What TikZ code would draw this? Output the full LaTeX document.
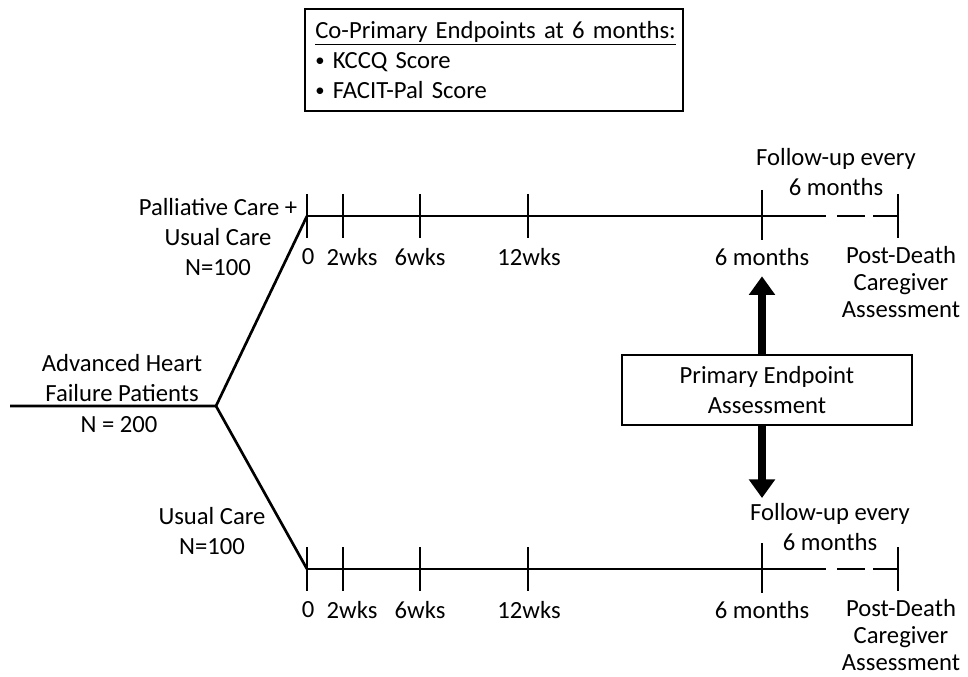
\documentclass[tikz,border=0pt]{standalone}
\usepackage{fontspec}
\setmainfont{Carlito}
\usetikzlibrary{arrows.meta,positioning}

\newcommand{\smbul}{\raisebox{0.06em}{\fontsize{14}{14}\selectfont•}\ }

\begin{document}
\begin{tikzpicture}[
    x=0.75pt, y=-0.75pt,
    line width=2pt,
    lbl/.style={font=\fontsize{18.5}{22.5}\selectfont, align=center, inner sep=0pt},
    box/.style={draw, line width=1.6pt, font=\fontsize{18.5}{22.5}\selectfont},
    bigarr/.style={-{Triangle[length=14pt,width=19pt]}, line width=6.5pt}
]
\useasboundingbox (0,0) rectangle (968,677);

% endpoints box
\node[box, align=left, text width=268pt, inner xsep=7.5pt, minimum height=76.5pt] (coprim) at (494,60)
    {\underline{Co-Primary Endpoints at 6 months:}\\ \smbul KCCQ Score\\ \smbul FACIT-Pal Score};

% randomisation
\coordinate (start) at (10,406);
\coordinate (split) at (216,406);
\coordinate (pc0) at (307,216);
\coordinate (uc0) at (307,569);
\draw (start) -- (split) -- (pc0);
\draw (split) -- (uc0);

\node[lbl] (pts) at (122,378) {Advanced Heart\\Failure Patients};
\node[lbl] (ntot) at (119,425) {N = 200};
\node[lbl] (pcarm) at (218,237) {Palliative Care +\\Usual Care\\N=100};
\node[lbl] (ucarm) at (212,531) {Usual Care\\N=100};

% timelines
\foreach \arm/\yy in {pc/216, uc/569} {
    \draw (\arm0) -- (826,\yy);
    \draw[dash pattern=on 21pt off 6pt] (837,\yy) -- (898,\yy);
    \draw (898,\yy-22) -- (898,\yy+22);
    \foreach \x/\lx/\t/\n in {307/308/0/w0, 343/352/2wks/w2, 420/420/6wks/w6, 528/529/12wks/w12} {
        \draw (\x,\yy-22) -- (\x,\yy+22);
        \node[lbl] (\arm\n) at (\lx,\yy+41) {\t};
    }
    \draw (762,\yy-26) -- (762,\yy+24);
    \node[lbl] (\arm6m) at (762,\yy+41) {6 months};
    \node[lbl, font=\fontsize{18.5}{20.5}\selectfont] (\arm pd) at (901,\yy+66) {Post-Death\\Caregiver\\Assessment};
}
\node[lbl] (pcfu) at (836,172) {Follow-up every\\6 months};
\node[lbl] (ucfu) at (830,527) {Follow-up every\\6 months};

% primary endpoint
\node[box, align=center, minimum width=217.5pt, minimum height=52.5pt] (pe) at (767,390)
    {Primary Endpoint\\Assessment};
\draw[bigarr] (pe.north -| pc6m) -- ([yshift=-7pt]pc6m.south);
\draw[bigarr] (pe.south -| pc6m) -- ([yshift=3pt]ucfu.north -| pc6m);
\end{tikzpicture}
\end{document}
